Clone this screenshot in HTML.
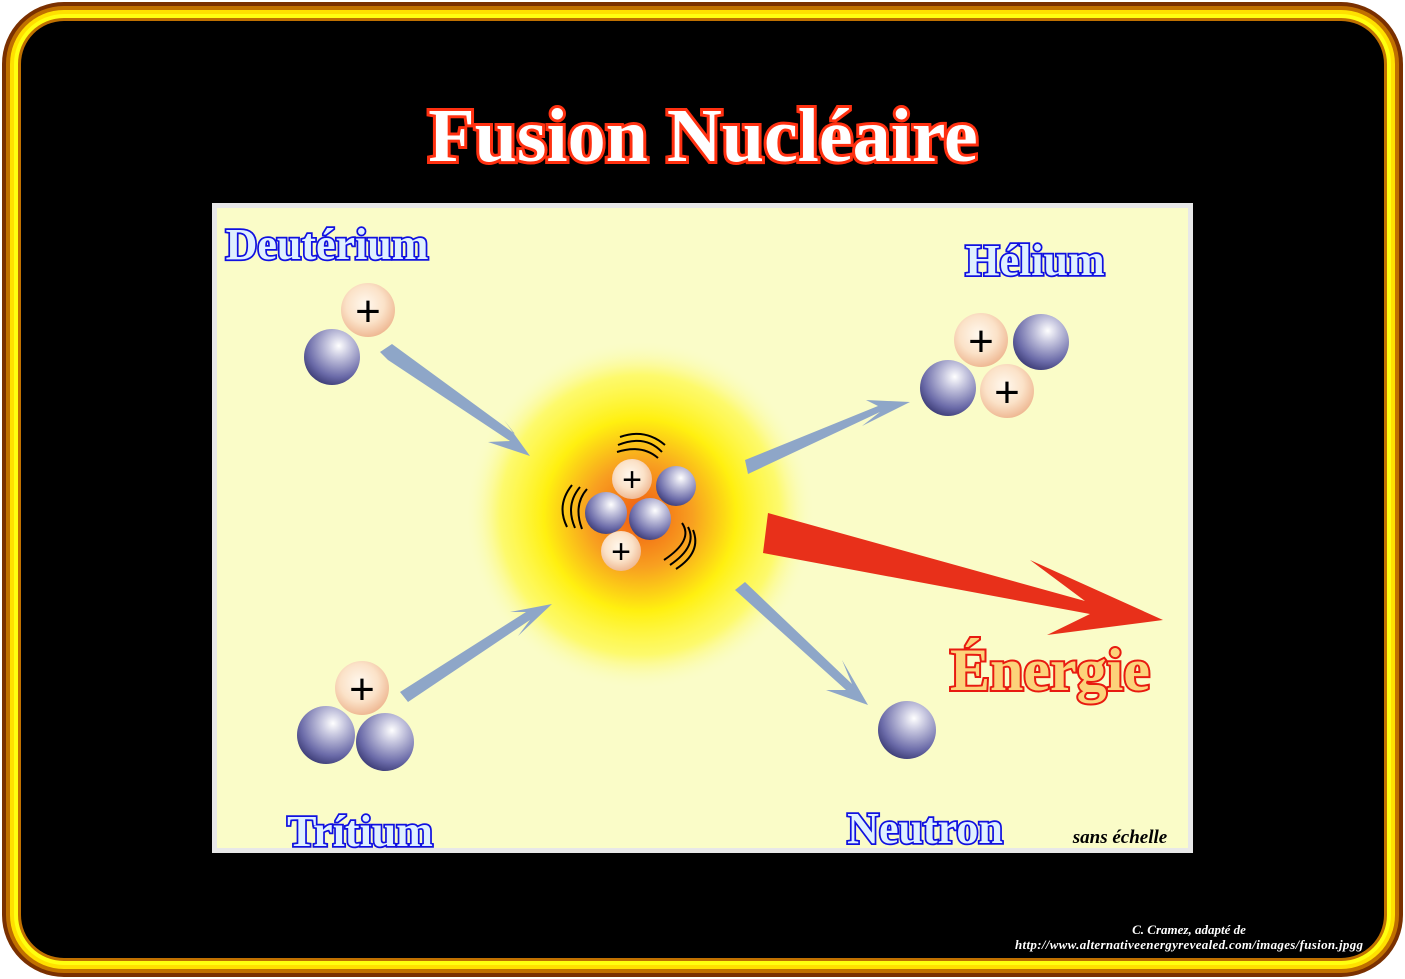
<!DOCTYPE html>
<html><head><meta charset="utf-8"><style>
html,body{margin:0;padding:0;background:#fff;}
svg{display:block;}
.lbl{font-family:"Liberation Serif",serif;font-weight:bold;font-size:44px;fill:#dff0ff;stroke:#1010e0;stroke-width:3.5px;paint-order:stroke;}
</style></head><body>
<svg width="1405" height="979" viewBox="0 0 1405 979" xmlns="http://www.w3.org/2000/svg">
<defs>
<radialGradient id="neu" cx="0.62" cy="0.3" r="0.8">
<stop offset="0" stop-color="#ffffff"/><stop offset="0.25" stop-color="#c8c8e0"/><stop offset="0.7" stop-color="#6a6aa8"/><stop offset="1" stop-color="#2e2e66"/>
</radialGradient>
<radialGradient id="pro" cx="0.45" cy="0.4" r="0.7">
<stop offset="0" stop-color="#fff8ee"/><stop offset="0.5" stop-color="#fbe2c8"/><stop offset="1" stop-color="#eaa980"/>
</radialGradient>
<radialGradient id="glow" cx="0.5" cy="0.5" r="0.5">
<stop offset="0" stop-color="#f05a10"/><stop offset="0.3" stop-color="#f8a020"/><stop offset="0.55" stop-color="#fff010"/><stop offset="0.8" stop-color="#fff830" stop-opacity="0.6"/><stop offset="1" stop-color="#fafcc8" stop-opacity="0"/>
</radialGradient>
</defs>
<rect x="0" y="0" width="1405" height="979" fill="#fff"/>
<rect x="2" y="2" width="1401" height="975" rx="62" fill="#7a3000"/>
<rect x="6" y="6" width="1393" height="967" rx="58" fill="#c07000"/>
<rect x="10" y="10" width="1385" height="959" rx="54" fill="#ffe000"/>
<rect x="14" y="14" width="1377" height="951" rx="50" fill="#ffff10"/>
<rect x="18" y="18" width="1369" height="943" rx="46" fill="#c07000"/>
<rect x="21" y="21" width="1363" height="937" rx="43" fill="#000"/>

<text x="703" y="161" text-anchor="middle" font-family="Liberation Serif,serif" font-weight="bold" font-size="76" fill="#fff" stroke="#ff3010" stroke-width="6" paint-order="stroke">Fusion Nucléaire</text>

<rect x="212" y="203" width="981" height="650" fill="#e8e8e8"/>
<rect x="217" y="208" width="971" height="640" fill="#fafcc8"/>

<circle cx="640" cy="515" r="175" fill="url(#glow)"/>

<g fill="#8ea6c8">
<polygon points="380,352 388,360 510,441 488,442 530,456 504,420 515,434 392,344"/>
<polygon points="400,692 408,702 530,620 518,636 552,604 510,612 526,612"/>
<polygon points="745,460 748,474 880,412 862,426 910,402 866,400 878,406"/>
<polygon points="735,590 745,582 852,684 842,660 868,705 826,690 846,690"/>
</g>
<polygon points="768,513 1085,601 1030,560 1163,620 1047,635 1090,614 763,553" fill="#e8301a"/>

<text x="1050" y="690" text-anchor="middle" font-family="Liberation Serif,serif" font-weight="bold" font-size="60" fill="#fcd27a" stroke="#e81a10" stroke-width="4" paint-order="stroke">Énergie</text>

<text class="lbl" x="327" y="259" text-anchor="middle">Deutérium</text>
<text class="lbl" x="1035" y="275" text-anchor="middle">Hélium</text>
<text class="lbl" x="360" y="846" text-anchor="middle">Trítium</text>
<text class="lbl" x="925" y="843" text-anchor="middle">Neutron</text>
<text x="1120" y="843" text-anchor="middle" font-family="Liberation Serif,serif" font-style="italic" font-weight="bold" font-size="19" fill="#000">sans échelle</text>

<g font-family="Liberation Sans,sans-serif" font-size="44" text-anchor="middle" fill="#000">
<circle cx="368" cy="310" r="27" fill="url(#pro)"/><text x="368" y="326">+</text>
<circle cx="332" cy="357" r="28" fill="url(#neu)"/>
<circle cx="1041" cy="342" r="28" fill="url(#neu)"/>
<circle cx="981" cy="340" r="27" fill="url(#pro)"/><text x="981" y="356">+</text>
<circle cx="948" cy="388" r="28" fill="url(#neu)"/>
<circle cx="1007" cy="391" r="27" fill="url(#pro)"/><text x="1007" y="407">+</text>
<circle cx="362" cy="688" r="27" fill="url(#pro)"/><text x="362" y="704">+</text>
<circle cx="326" cy="735" r="29" fill="url(#neu)"/>
<circle cx="385" cy="742" r="29" fill="url(#neu)"/>
<circle cx="907" cy="730" r="29" fill="url(#neu)"/>
<g font-size="34">
<circle cx="676" cy="486" r="20" fill="url(#neu)"/>
<circle cx="632" cy="479" r="20" fill="url(#pro)"/><text x="632" y="491">+</text>
<circle cx="606" cy="513" r="21" fill="url(#neu)"/>
<circle cx="650" cy="519" r="21" fill="url(#neu)"/>
<circle cx="621" cy="551" r="20" fill="url(#pro)"/><text x="621" y="563">+</text>
</g>
</g>
<g fill="none" stroke="#000" stroke-width="2">
<path d="M620,437 Q645,428 665,445"/><path d="M618,445 Q645,434 662,452"/><path d="M617,452 Q642,444 658,458"/>
<path d="M572,485 Q556,505 567,527"/><path d="M580,487 Q565,505 575,528"/><path d="M587,489 Q573,505 582,529"/>
<path d="M682,523 Q694,540 664,560"/><path d="M688,527 Q698,546 670,565"/><path d="M693,530 Q702,552 676,569"/>
</g>

<text x="1189" y="934" text-anchor="middle" font-family="Liberation Serif,serif" font-style="italic" font-weight="bold" font-size="13" fill="#fff">C. Cramez, adapté de</text>
<text x="1189" y="949" text-anchor="middle" font-family="Liberation Serif,serif" font-style="italic" font-weight="bold" font-size="13" fill="#fff" textLength="348">http://www.alternativeenergyrevealed.com/images/fusion.jpgg</text>
</svg>
</body></html>
